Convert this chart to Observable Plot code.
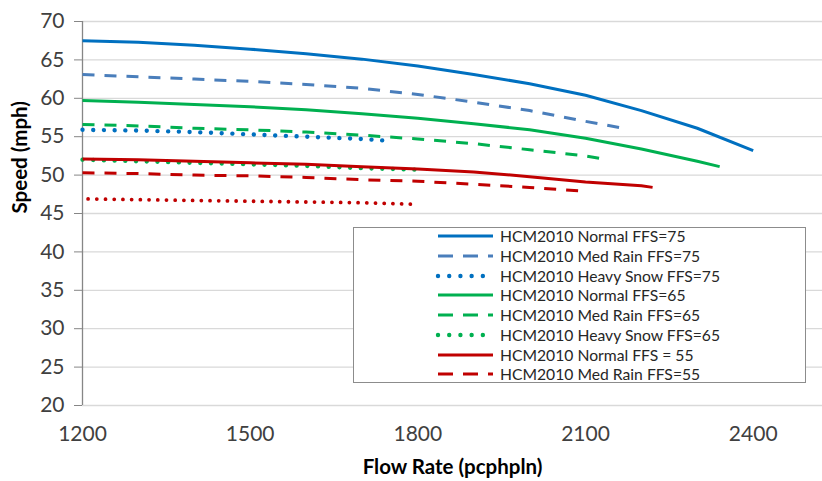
<!DOCTYPE html>
<html>
<head>
<meta charset="utf-8">
<script src="https://cdn.jsdelivr.net/npm/d3@7"></script>
<script src="https://cdn.jsdelivr.net/npm/@observablehq/plot@0.6"></script>
<style>
  html, body { margin: 0; padding: 0; background: #fff; }
  #wrap { position: relative; width: 822px; height: 481px; font-family: Lato, "Open Sans", sans-serif; }
  #legend { position: absolute; left: 353px; top: 227px; width: 453px; height: 156px; box-sizing: border-box;
            border: 1px solid #8c8c8c; background: #fff; }
  .row { position: absolute; left: 81px; height: 20px; display: flex; align-items: center; }
  .row svg { width: 60px; height: 10px; margin-right: 5px; }
  .row span { font-size: 15.7px; color: #262626; white-space: nowrap; }
</style>
</head>
<body>
<div id="wrap"></div>
<script>
// ---- data ----
const xTicks = [1200, 1500, 1800, 2100, 2400];
const yTicks = [20, 25, 30, 35, 40, 45, 50, 55, 60, 65, 70];
const xTitle = "Flow Rate (pcphpln)";
const yTitle = "Speed (mph)";

const flowNormal75 = [1200,1300,1400,1500,1600,1700,1800,1900,2000,2100,2200,2300,2400];
const speedNormal75 = [67.5,67.3,66.9,66.4,65.8,65.1,64.2,63.1,61.9,60.4,58.4,56.1,53.2];

const flowMedRain75 = [1200,1300,1400,1500,1600,1700,1800,1900,2000,2100,2160];
const speedMedRain75 = [63.1,62.8,62.5,62.2,61.8,61.3,60.5,59.5,58.4,57.0,56.2];

const flowSnow75 = [1200,1300,1400,1500,1600,1700,1740];
const speedSnow75 = [55.9,55.8,55.6,55.3,55.0,54.7,54.5];

const flowNormal65 = [1200,1300,1400,1500,1600,1700,1800,1900,2000,2100,2200,2300,2340];
const speedNormal65 = [59.7,59.5,59.2,58.9,58.5,58.0,57.4,56.7,55.9,54.8,53.4,51.8,51.1];

const flowMedRain65 = [1200,1300,1400,1500,1600,1700,1800,1900,2000,2100,2140];
const speedMedRain65 = [56.6,56.4,56.1,55.9,55.6,55.2,54.7,54.1,53.3,52.5,52.0];

const flowSnow65 = [1200,1300,1400,1500,1600,1700,1800];
const speedSnow65 = [52.0,51.8,51.6,51.4,51.2,50.9,50.7];

const flowNormal55 = [1200,1300,1400,1500,1600,1700,1800,1900,2000,2100,2200,2220];
const speedNormal55 = [52.1,52.0,51.8,51.6,51.4,51.1,50.8,50.4,49.8,49.1,48.6,48.4];

const flowMedRain55 = [1200,1300,1400,1500,1600,1700,1800,1900,2000,2100];
const speedMedRain55 = [50.3,50.2,50.0,49.9,49.7,49.4,49.2,48.8,48.4,47.9];

const flowSnow55 = [1210,1300,1400,1500,1600,1700,1800];
const speedSnow55 = [46.9,46.8,46.7,46.6,46.5,46.4,46.2];

const seriesNames = [
  "HCM2010 Normal FFS=75", "HCM2010 Med Rain FFS=75", "HCM2010 Heavy Snow FFS=75",
  "HCM2010 Normal FFS=65", "HCM2010 Med Rain FFS=65", "HCM2010 Heavy Snow FFS=65",
  "HCM2010 Normal FFS = 55", "HCM2010 Med Rain FFS=55", "HCM2010 Heavy Snow FFS=55"
];
const legendNames = seriesNames.slice(0, 8);

// ---- styles ----
const BLUE = "#0070C0", BLUE2 = "#4a7ebb", GREEN = "#00B050", RED = "#C00000";
const solid = {dash: null, cap: "butt", w: 3};
const dashed = {dash: "12 10", cap: "butt", w: 3};
const dotted = {dash: "0.01 10.7", cap: "round", w: 4.4};
const dottedSmall = {dash: "0.01 8.7", cap: "round", w: 3.8};
const styles = [
  {color: BLUE, ...solid}, {color: BLUE2, ...dashed}, {color: BLUE, ...dotted},
  {color: GREEN, ...solid}, {color: GREEN, ...dashed}, {color: GREEN, ...dotted},
  {color: RED, ...solid}, {color: RED, ...dashed}, {color: RED, ...dottedSmall}
];
const seriesData = [
  [flowNormal75, speedNormal75], [flowMedRain75, speedMedRain75], [flowSnow75, speedSnow75],
  [flowNormal65, speedNormal65], [flowMedRain65, speedMedRain65], [flowSnow65, speedSnow65],
  [flowNormal55, speedNormal55], [flowMedRain55, speedMedRain55], [flowSnow55, speedSnow55]
];
const tables = seriesData.map(([fx, sy], i) => fx.map((f, j) => ({flow: f, speed: sy[j], series: seriesNames[i]})));

const lineMarks = tables.map((t, i) => Plot.line(t, {
  x: "flow", y: "speed", stroke: styles[i].color, strokeWidth: styles[i].w,
  strokeDasharray: styles[i].dash, strokeLinecap: styles[i].cap, strokeLinejoin: "round"
}));

const chart = Plot.plot({
  width: 822, height: 481,
  marginLeft: 82, marginRight: 0, marginTop: 21, marginBottom: 76,
  style: {fontFamily: "Lato, 'Open Sans', sans-serif", background: "#fff", color: "#404040"},
  x: {domain: [1200, 2524], ticks: xTicks},
  y: {domain: [20, 70], ticks: yTicks},
  marks: [
    Plot.gridY(yTicks, {stroke: "#d9d9d9", strokeOpacity: 1, strokeWidth: 1.3}),
    Plot.ruleX([1200], {stroke: "#868686", strokeWidth: 1.3}),
    Plot.axisY(yTicks, {tickSize: 8, tickPadding: 10, fontSize: 21, stroke: "#868686", fill: "#404040", label: null}),
    Plot.axisX(xTicks, {tickSize: 0, tickPadding: 21, fontSize: 21, fill: "#404040", label: null, tickFormat: "d"}),
    Plot.text([xTitle], {frameAnchor: "bottom", dy: 62, fontSize: 20.5, fontWeight: "bold", fill: "#000", lineAnchor: "middle"}),
    Plot.text([yTitle], {frameAnchor: "left", dx: -62, rotate: -90, fontSize: 20.5, fontWeight: "bold", fill: "#000", lineAnchor: "middle"}),
    ...lineMarks
  ]
});

const wrap = document.getElementById("wrap");
wrap.appendChild(chart);

// legend (overlay box inside the plot)
const legend = document.createElement("div");
legend.id = "legend";
legendNames.forEach((name, i) => {
  const s = styles[i];
  const row = document.createElement("div");
  row.className = "row";
  row.style.top = (-2 + i * 19.75) + "px";
  const legDash = s.dash === "12 10" ? "15 10" : (s.dash ? "0.01 11.2" : null);
  row.innerHTML = `<svg viewBox="0 0 60 10"><line x1="3" x2="58" y1="5" y2="5" stroke="${s.color}" stroke-width="${s.w}"
     ${legDash ? `stroke-dasharray="${legDash}"` : ""} stroke-linecap="${s.cap}"/></svg><span>${name}</span>`;
  legend.appendChild(row);
});
wrap.appendChild(legend);
</script>
</body>
</html>
